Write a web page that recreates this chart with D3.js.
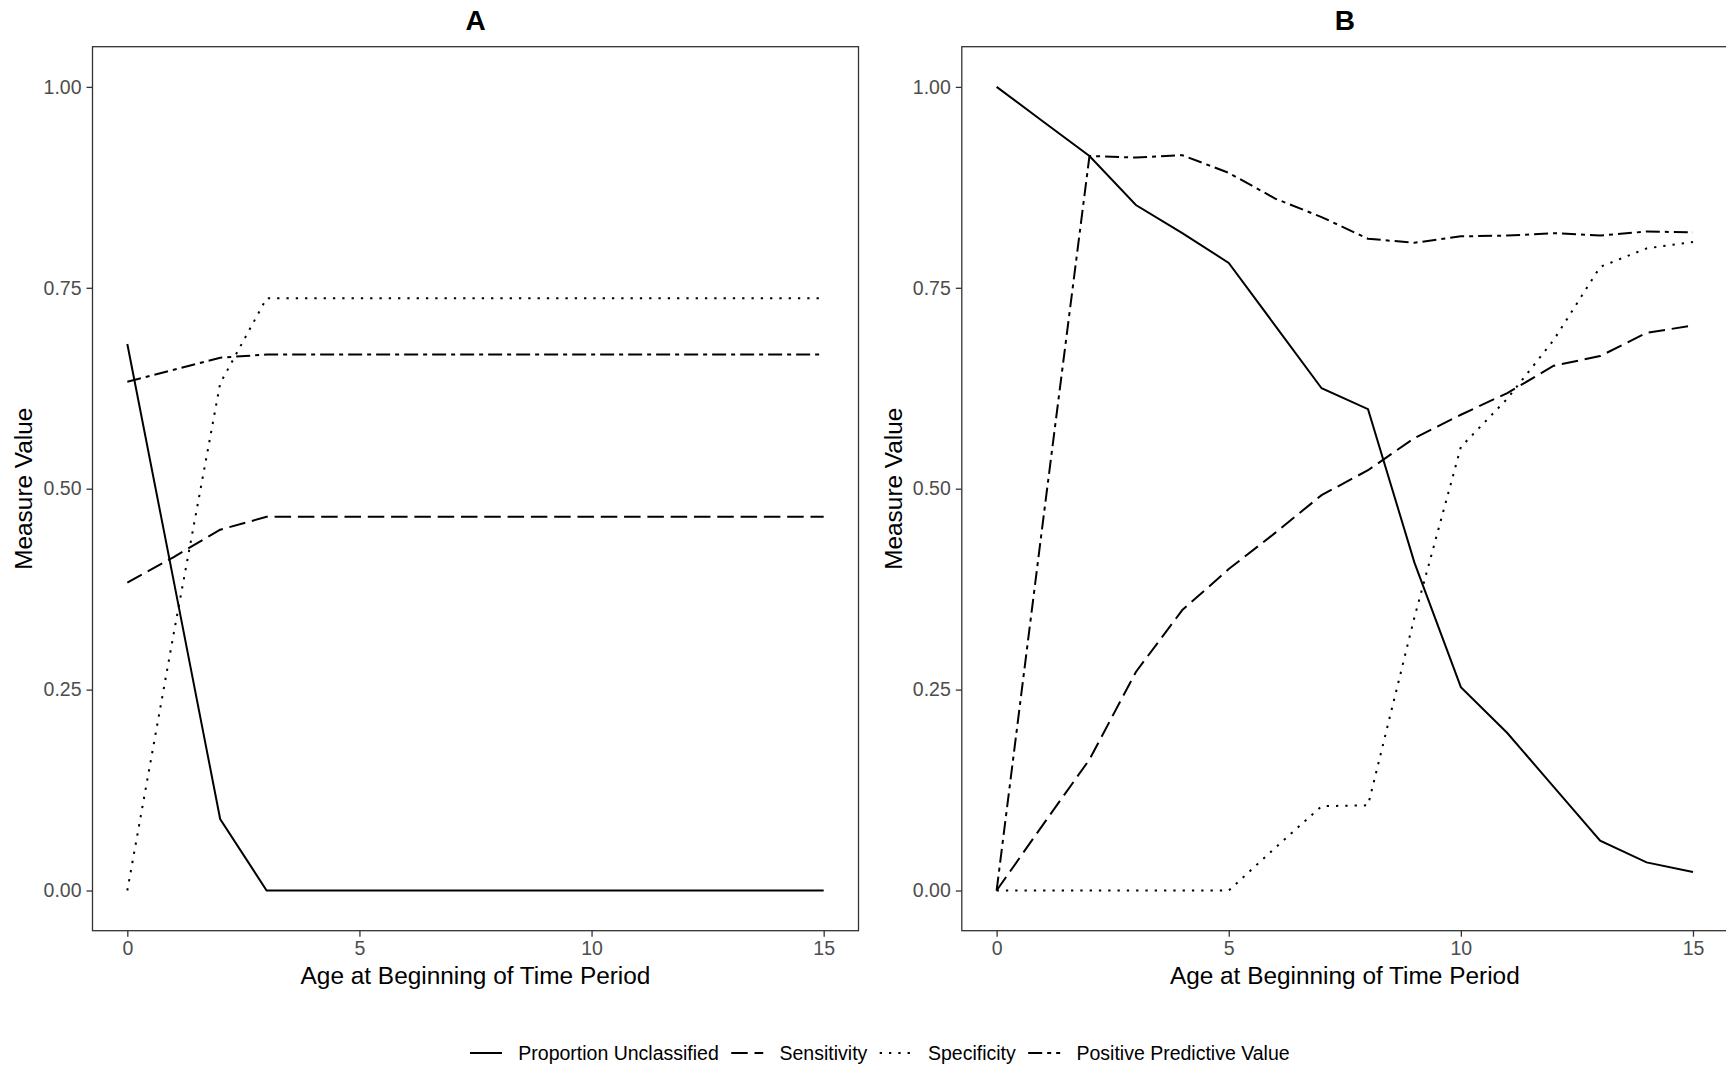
<!DOCTYPE html>
<html>
<head>
<meta charset="utf-8">
<script src="https://cdn.jsdelivr.net/npm/d3@7"></script>
<style>
  body { margin: 0; background: #fff; }
  svg { display: block; font-family: "Liberation Sans", Arial, sans-serif; }
</style>
</head>
<body>
<svg id="chart" width="1726" height="1065"></svg>
<script>
// ages on the x axis
var ages = [0, 1, 2, 3, 4, 5, 6, 7, 8, 9, 10, 11, 12, 13, 14, 15];

// panel A
var unclassA = [0.68, 0.385, 0.089, 0, 0, 0, 0, 0, 0, 0, 0, 0, 0, 0, 0, 0];
var sensA = [0.383, 0.415, 0.449, 0.465, 0.465, 0.465, 0.465, 0.465, 0.465, 0.465, 0.465, 0.465, 0.465, 0.465, 0.465, 0.465];
var specA = [0, 0.32, 0.631, 0.737, 0.737, 0.737, 0.737, 0.737, 0.737, 0.737, 0.737, 0.737, 0.737, 0.737, 0.737, 0.737];
var ppvA = [0.633, 0.648, 0.663, 0.667, 0.667, 0.667, 0.667, 0.667, 0.667, 0.667, 0.667, 0.667, 0.667, 0.667, 0.667, 0.667];

// panel B
var unclassB = [1.0, 0.957, 0.914, 0.853, 0.818, 0.781, 0.703, 0.625, 0.599, 0.408, 0.253, 0.196, 0.129, 0.062, 0.035, 0.023];
var sensB = [0, 0.082, 0.163, 0.272, 0.349, 0.4, 0.445, 0.492, 0.523, 0.563, 0.592, 0.619, 0.653, 0.665, 0.694, 0.703];
var specB = [0, 0, 0, 0, 0, 0, 0.053, 0.105, 0.106, 0.34, 0.552, 0.612, 0.685, 0.776, 0.799, 0.807];
var ppvB = [0, 0.46, 0.914, 0.912, 0.915, 0.893, 0.861, 0.838, 0.811, 0.806, 0.814, 0.815, 0.818, 0.815, 0.82, 0.819];

var measures = ["Proportion Unclassified", "Sensitivity", "Specificity", "Positive Predictive Value"];
var xTicks = [0, 5, 10, 15];
var yTicks = [0, 0.25, 0.5, 0.75, 1];

// dash patterns: solid, dashed, dotted, dotdash
var dashes = ["none", "16.5,6.8", "2.3,7", "14,5,4,5"];

var chart = d3.select("#chart");
chart.append("rect").attr("width", 1726).attr("height", 1065).attr("fill", "#fff");

var plotTop = 46.7, plotBottom = 930.7;
var y = d3.scaleLinear().domain([-0.05, 1.05]).range([plotBottom, plotTop]);

function drawPanel(title, left, right, series) {
  var x = d3.scaleLinear().domain([-0.75, 15.75]).range([left, right]);
  var g = chart.append("g");

  // x axis
  var xa = g.append("g")
    .attr("transform", "translate(0," + plotBottom + ")")
    .call(d3.axisBottom(x).tickValues(xTicks).tickSize(6).tickSizeOuter(0).tickPadding(4));
  xa.select(".domain").remove();
  xa.selectAll("line").attr("stroke", "#333").attr("stroke-width", 1.3);
  xa.selectAll("text")
    .attr("fill", "#4d4d4d")
    .attr("font-size", 19.5)
    .attr("font-family", "Liberation Sans, Arial, sans-serif");

  // y axis
  var ya = g.append("g")
    .attr("transform", "translate(" + left + ",0)")
    .call(d3.axisLeft(y).tickValues(yTicks).tickFormat(d3.format(".2f")).tickSize(6).tickSizeOuter(0).tickPadding(5));
  ya.select(".domain").remove();
  ya.selectAll("line").attr("stroke", "#333").attr("stroke-width", 1.3);
  ya.selectAll("text")
    .attr("fill", "#4d4d4d")
    .attr("font-size", 19.5)
    .attr("font-family", "Liberation Sans, Arial, sans-serif");

  // lines
  var line = d3.line()
    .x(function (d) { return x(d[0]); })
    .y(function (d) { return y(d[1]); });

  series.forEach(function (vals, i) {
    g.append("path")
      .datum(d3.zip(ages, vals))
      .attr("d", line)
      .attr("fill", "none")
      .attr("stroke", "#000")
      .attr("stroke-width", 2)
      .attr("stroke-dasharray", dashes[i]);
  });

  // panel border
  g.append("rect")
    .attr("x", left)
    .attr("y", plotTop)
    .attr("width", right - left)
    .attr("height", plotBottom - plotTop)
    .attr("fill", "none")
    .attr("stroke", "#333")
    .attr("stroke-width", 1.3);

  g.append("text")
    .text(title)
    .attr("x", (left + right) / 2)
    .attr("y", 30)
    .attr("text-anchor", "middle")
    .attr("font-size", 28)
    .attr("font-weight", "bold");

  g.append("text")
    .text("Age at Beginning of Time Period")
    .attr("x", (left + right) / 2)
    .attr("y", 984)
    .attr("text-anchor", "middle")
    .attr("font-size", 24.4);

  var yt = left - 60, ym = (plotTop + plotBottom) / 2;
  g.append("text")
    .text("Measure Value")
    .attr("x", yt)
    .attr("y", ym)
    .attr("transform", "rotate(-90," + yt + "," + ym + ")")
    .attr("text-anchor", "middle")
    .attr("font-size", 24.4);
}

drawPanel("A", 92.5, 858.5, [unclassA, sensA, specA, ppvA]);
drawPanel("B", 961.8, 1727.8, [unclassB, sensB, specB, ppvB]);

// legend
var legend = chart.append("g");
var lx = 470;
measures.forEach(function (m, i) {
  legend.append("line")
    .attr("x1", lx).attr("x2", lx + 32)
    .attr("y1", 1053).attr("y2", 1053)
    .attr("stroke", "#000")
    .attr("stroke-width", 2)
    .attr("stroke-dasharray", dashes[i]);
  var t = legend.append("text")
    .text(m)
    .attr("x", lx + 48.3)
    .attr("y", 1060)
    .attr("font-size", 19.5)
    .attr("fill", "#000");
  lx = lx + 48.3 + t.node().getComputedTextLength() + 12.4;
});
</script>
</body>
</html>
